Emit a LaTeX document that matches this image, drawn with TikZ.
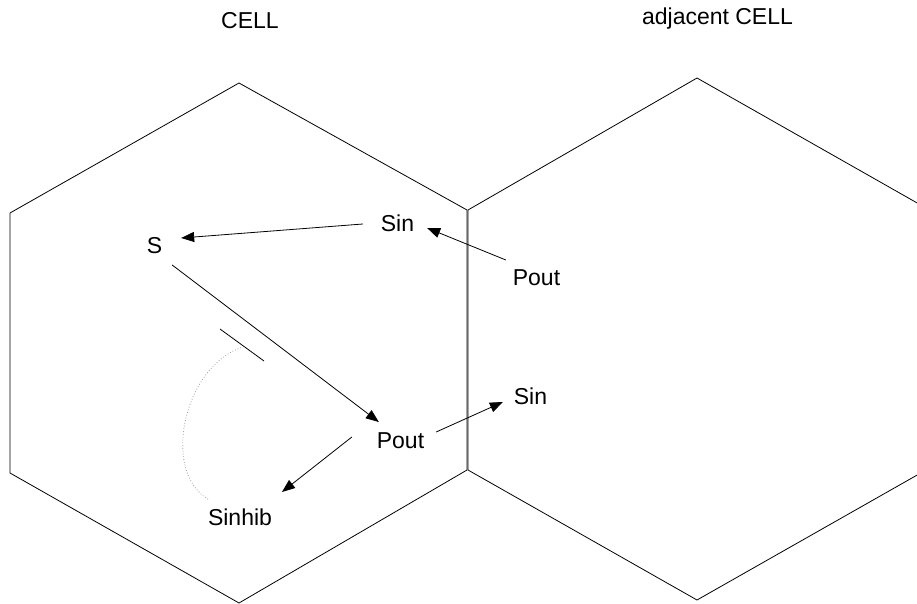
\documentclass[tikz,border=0pt]{standalone}
\usepackage{fontspec}
\setmainfont{Liberation Sans}
\usetikzlibrary{arrows.meta}
\begin{document}
\begin{tikzpicture}[x=1pt,y=-1pt,
  lbl/.style={inner sep=0pt,outer sep=0pt,text height=16.5pt,text depth=0pt,font=\fontsize{23}{27}\selectfont},
  hexline/.style={line width=0.8pt,black},
  arr/.style={line width=0.8pt,-{Triangle[length=13pt,width=10pt]}},
  inhib/.style={line width=0.8pt},
  dotline/.style={line width=0.8pt,gray!75,dotted}]
\useasboundingbox (0,0) rectangle (917,604);
\clip (0,0) rectangle (917,604);
% hexagons
\draw[hexline] (239,83) -- (467,210) -- (467,470) -- (239,603) -- (10,473) -- (10,213) -- cycle;
\draw[hexline] (697,78) -- (926,208) -- (926,470) -- (697,600) -- (468,470) -- (468,210) -- cycle;
% titles
\node[lbl] (cell) at (250,20.5) {CELL};
\node[lbl] (adj) at (717.5,16) {adjacent CELL};
% labels
\node[lbl] (s) at (154.5,245) {S};
\node[lbl] (sin1) at (397.5,223.5) {Sin};
\node[lbl] (pout1) at (536.5,277.5) {Pout};
\node[lbl] (sin2) at (530.5,396.5) {Sin};
\node[lbl] (pout2) at (400.5,440) {Pout};
\node[lbl] (sinhib) at (240,517.5) {Sinhib};
% arrows
\draw[arr] ([shift={(-18,0.5)}]sin1.west) -- ([shift={(19,-7)}]s.east);
\draw[arr] ([shift={(-7,-9.25)}]pout1.north west) -- ([shift={(13,4.5)}]sin1.east);
\draw[arr] ([shift={(10,11.75)}]s.south east) -- ([shift={(2,-9.75)}]pout2.north west);
\draw[arr] ([shift={(12,-8)}]pout2.east) -- ([shift={(-11,5.5)}]sin2.west);
\draw[arr] ([shift={(-25,-3)}]pout2.west) -- ([shift={(10,-17.25)}]sinhib.north east);
% inhibition bar and dotted link
\coordinate (bar1) at (220,329);
\coordinate (bar2) at (264,361);
\coordinate (barmid) at (243,347);
\draw[inhib] (bar1) -- (bar2);
\draw[dotline] ([shift={(0,-10)}]sinhib.north west) .. controls (160,470) and (185,365) .. (barmid);
\end{tikzpicture}
\end{document}
